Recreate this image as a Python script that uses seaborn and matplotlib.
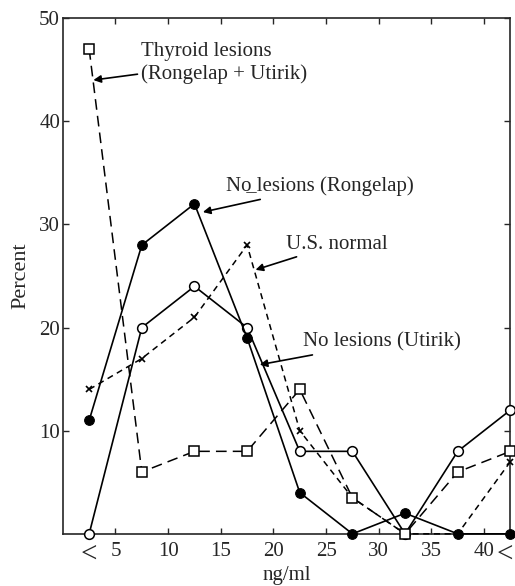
import matplotlib
matplotlib.use("Agg")
import matplotlib.pyplot as plt
from matplotlib.transforms import ScaledTranslation
import seaborn as sns
import pandas as pd

# Serum concentration bins (ng/ml), plotted at bin midpoints
bin_mid = [2.5, 7.5, 12.5, 17.5, 22.5, 27.5, 32.5, 37.5, 42.5]
tick_pos = [2.5, 5, 10, 15, 20, 25, 30, 35, 40, 42.5]
tick_labels = ["<", "5", "10", "15", "20", "25", "30", "35", "40", "<"]

# Percent of subjects in each bin
thyroid_lesions = [47, 6, 8, 8, 14, 3.5, 0, 6, 8]
no_lesions_rongelap = [11, 28, 32, 19, 4, 0, 2, 0, 0]
no_lesions_utirik = [0, 20, 24, 20, 8, 8, 0, 8, 12]
us_normal = [14, 17, 21, 28, 10, 3.5, 0, 0, 7]

sns.set_style("ticks")
plt.rcParams["font.family"] = ["Liberation Serif", "DejaVu Serif"]

fig = plt.figure(figsize=(5.15, 5.86), dpi=100)
ax = fig.add_axes([0.122, 0.089, 0.869, 0.880])

df = pd.DataFrame({
    "ng": bin_mid,
    "thyroid": thyroid_lesions,
    "rongelap": no_lesions_rongelap,
    "utirik": no_lesions_utirik,
    "usn": us_normal,
})

common = dict(ax=ax, color="black", clip_on=False, zorder=3)

sns.lineplot(data=df, x="ng", y="utirik", marker="o", markersize=7,
             markerfacecolor="white", markeredgecolor="black",
             markeredgewidth=1.1, linewidth=1.2, **common)
sns.lineplot(data=df, x="ng", y="rongelap", marker="o", markersize=7,
             markerfacecolor="black", markeredgecolor="black",
             linewidth=1.2, **common)
sns.lineplot(data=df, x="ng", y="usn", marker="x", markersize=5,
             markeredgecolor="black", markerfacecolor="black",
             markeredgewidth=1.2, linewidth=1.1, **common)
ax.lines[-1].set_dashes([4, 3])
sns.lineplot(data=df, x="ng", y="thyroid", marker="s", markersize=6.5,
             markerfacecolor="white", markeredgecolor="black",
             markeredgewidth=1.1, linewidth=1.1, **common)
ax.lines[-1].set_dashes([7, 4])

ax.set_xlim(0, 42.5)
ax.set_ylim(0, 50)
ax.set_yticks([10, 20, 30, 40, 50])
ax.set_xticks(tick_pos)
ax.set_xticklabels(tick_labels)

ax.tick_params(direction="in", top=True, right=True, labelright=False,
               labeltop=False, length=4, width=1, labelsize=15, pad=6)
ax.tick_params(axis="y", pad=2)
xt = ax.xaxis.get_major_ticks()
for t in (xt[0], xt[-1]):
    t.tick1line.set_visible(False)
    t.tick2line.set_visible(False)
    t.label1.set_fontsize(21)
xt[-1].label1.set_transform(xt[-1].label1.get_transform()
                            + ScaledTranslation(-4 / 72, 0, fig.dpi_scale_trans))
for s in ax.spines.values():
    s.set_linewidth(1.2)

ax.set_xlabel("ng/ml", fontsize=15)
ax.xaxis.set_label_coords(0.5, -0.062)
ax.set_ylabel("Percent", fontsize=16, labelpad=6)

arrow = dict(arrowstyle="-|>", color="black", lw=1.2, mutation_scale=11,
             shrinkA=0, shrinkB=0)
fs = 15
ax.annotate("Thyroid lesions\n(Rongelap + Utirik)", xy=(2.9, 44), xytext=(7.4, 47.7),
            fontsize=fs, va="top", ha="left", arrowprops=arrow, linespacing=1.2)
ax.annotate("N\u006f\u0332 lesions (Rongelap)", xy=(13.3, 31.2), xytext=(15.5, 33.7),
            fontsize=fs, va="center", ha="left", arrowprops=arrow)
ax.annotate("U.S. normal", xy=(18.3, 25.6), xytext=(21.2, 28.1),
            fontsize=fs, va="center", ha="left", arrowprops=arrow)
ax.annotate("No lesions (Utirik)", xy=(18.7, 16.4), xytext=(22.8, 18.6),
            fontsize=fs, va="center", ha="left", arrowprops=arrow)

fig.savefig("out.png", dpi=100)
